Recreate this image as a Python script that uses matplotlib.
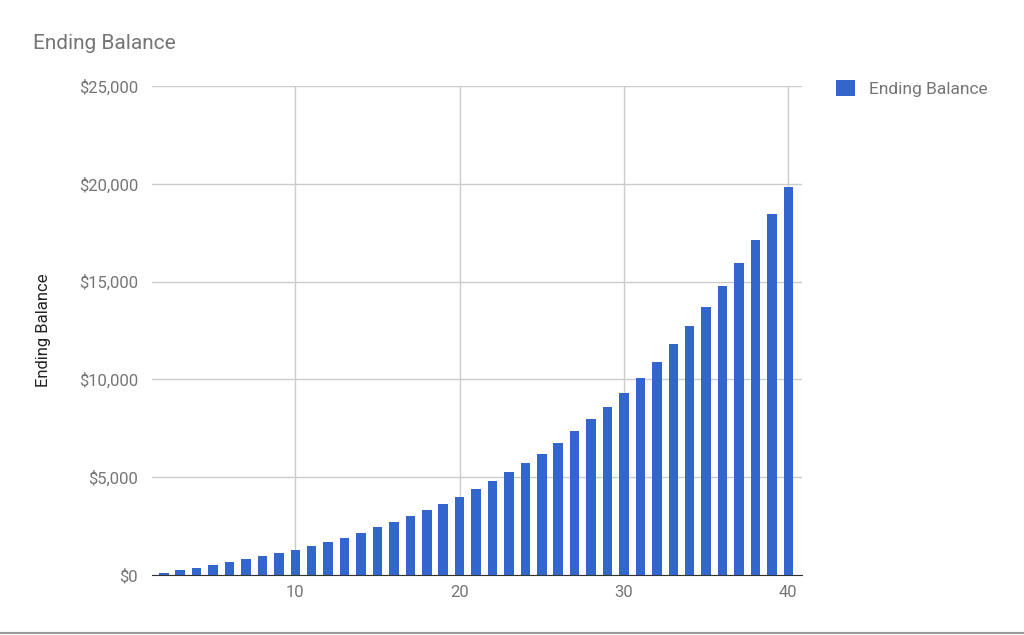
import matplotlib.pyplot as plt
from matplotlib.lines import Line2D
from matplotlib.ticker import FuncFormatter

# year 1 falls outside the visible axis, so the bars start at year 2
years = list(range(2, 41))
ending_balance = [103, 257, 360, 497, 651, 822, 959, 1113, 1284,
                  1507, 1678, 1901, 2140, 2449, 2688, 3014, 3322, 3630,
                  4010, 4380, 4790, 5250, 5710, 6186, 6730, 7345, 7990, 8605,
                  9320, 10090, 10870, 11810, 12750, 13690, 14775, 15935,
                  17130, 18460, 19850]
x_ticks = [10, 20, 30, 40]
y_ticks = [0, 5000, 10000, 15000, 20000, 25000]

plt.rcParams['font.family'] = ['Roboto', 'DejaVu Sans']
blue = '#3366cc'
grey = '#757575'

fig = plt.figure(figsize=(10.24, 6.35), dpi=100)
ax = fig.add_axes([0.1484, 0.0945, 0.6346, 0.7701])

ax.bar(years, ending_balance, width=0.58, color=blue, label='Ending Balance', zorder=3)

ax.set_xlim(1.28, 40.82)
ax.set_ylim(0, 25000)
ax.set_xticks(x_ticks)
ax.set_yticks(y_ticks)
ax.yaxis.set_major_formatter(FuncFormatter(lambda v, p: '${:,.0f}'.format(v)))
ax.grid(True, color='#cccccc', linewidth=1, zorder=0)
ax.tick_params(length=0, labelsize=12, colors=grey, pad=7)
ax.tick_params(axis='y', pad=10)
for s in ['top', 'right', 'left']:
    ax.spines[s].set_visible(False)
ax.spines['bottom'].set_color('#333333')
ax.spines['bottom'].set_zorder(4)

ax.set_ylabel('Ending Balance', fontsize=12, color='#222222', labelpad=20)
fig.text(0.032, 0.932, 'Ending Balance', fontsize=15, color=grey, va='center')

leg = ax.legend(loc='upper left', bbox_to_anchor=(1.028, 1.045), frameon=False,
                fontsize=12.5, handlelength=1.1, handleheight=1.1, handletextpad=0.8)
for t in leg.get_texts():
    t.set_color(grey)

fig.add_artist(Line2D([0, 1], [0.003, 0.003], color='#999999', linewidth=1.5))

fig.savefig('out.png', dpi=100)
